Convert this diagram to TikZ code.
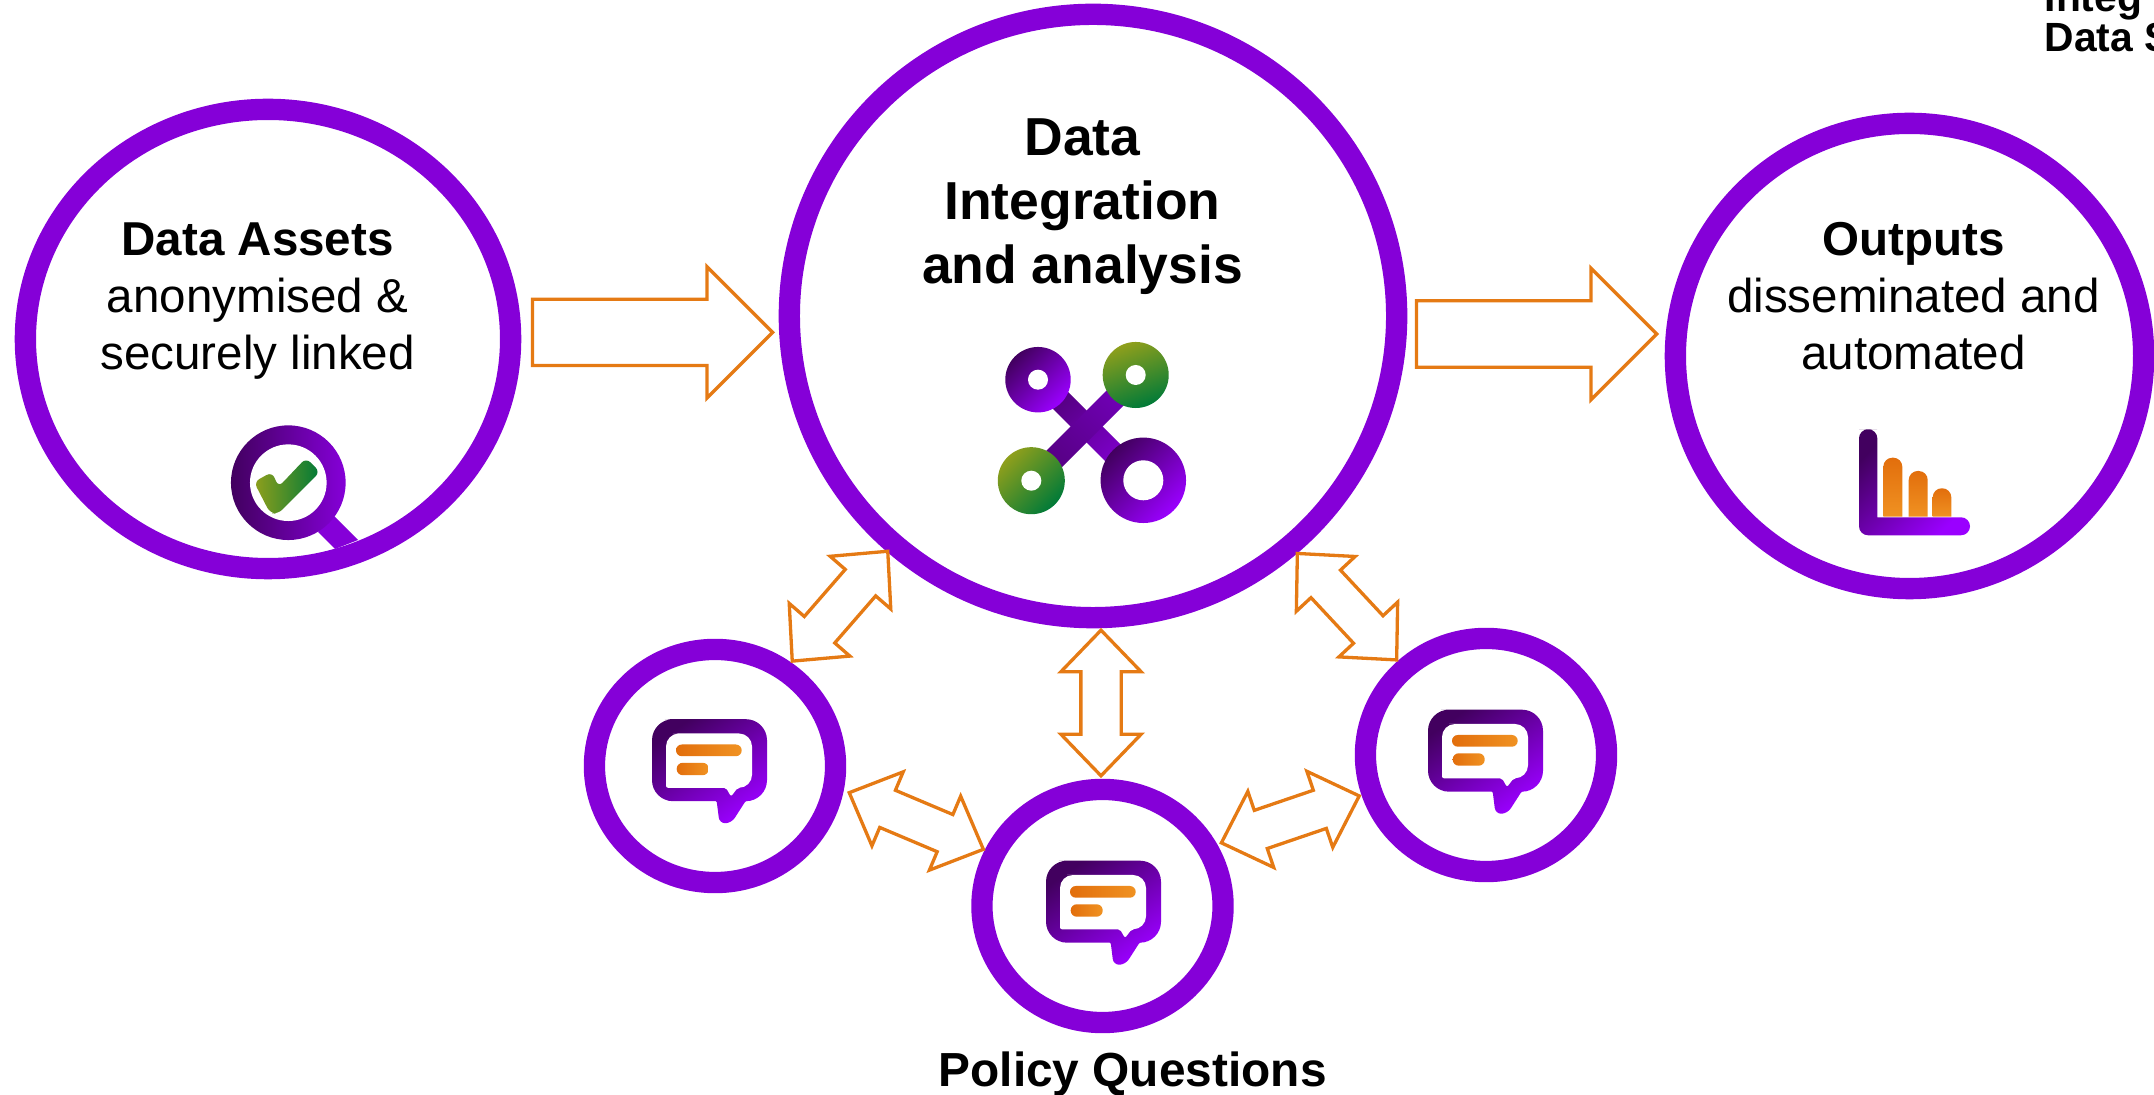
\documentclass[tikz,border=0pt]{standalone}
\usepackage{fontspec}
\setmainfont{Liberation Sans}
\usetikzlibrary{shapes.geometric,shapes.arrows}
\definecolor{ringpurple}{HTML}{8500D8}
\definecolor{darkpurple}{HTML}{42005F}
\definecolor{brightpurple}{HTML}{9A00FF}
\definecolor{arroworange}{HTML}{E57A14}
\definecolor{barorange}{HTML}{E26E0C}
\definecolor{lightorange}{HTML}{F09222}
\definecolor{olive}{HTML}{8F9F1C}
\definecolor{deepgreen}{HTML}{007A38}
\tikzset{
  x=0.01cm,y=-0.01cm,
  ringnode/.style={draw=ringpurple,line width=0.213cm,ellipse,inner sep=0pt,fill=white},
  labeltext/.style={align=center,inner sep=0pt,font=\fontsize{13.52}{16.2}\selectfont},
  bigtext/.style={align=center,inner sep=0pt,font=\fontsize{15.2}{18.2}\selectfont\bfseries},
  flowarrow/.style={single arrow,draw=arroworange,line width=0.033cm,inner xsep=0pt,inner ysep=0.315cm,anchor=tip,
    minimum height=2.40cm,minimum width=1.28cm,single arrow head extend=0.325cm,single arrow tip angle=90},
  linkarrow/.style={double arrow,draw=arroworange,line width=0.033cm,inner xsep=0pt,inner ysep=0.185cm,
    minimum height=1.455cm,minimum width=0.77cm,double arrow head extend=0.20cm,double arrow tip angle=88},
  purplegrad/.style={left color=darkpurple,right color=brightpurple,shading angle=45},
  greengrad/.style={left color=olive,right color=deepgreen,shading angle=45},
  bubble/.pic={
    \path[left color=darkpurple,right color=brightpurple,shading angle=35]
      (60,20.7) [rounded corners=0.21cm] -- (141,20.7) -- (141,102.7) [rounded corners=0.01cm] -- (119.5,102.7)
      [rounded corners=0.06cm] -- (105.5,124.5) -- (93.5,125) [rounded corners=0.01cm] -- (90.7,102.7)
      [rounded corners=0.21cm] -- (26,102.7) -- (26,20.7) -- cycle;
    \fill[white] (60,35) [rounded corners=0.13cm] -- (126,35) -- (126,89.3) [rounded corners=0.02cm] -- (111.7,89.3)
      -- (105,98) -- (100,89.3) -- (40,89.3) [rounded corners=0.13cm] -- (40,35) -- cycle;
    \path[left color=barorange,right color=lightorange,rounded corners=0.058cm] (50,46) rectangle (115.7,57.7);
    \path[left color=barorange,right color=lightorange,rounded corners=0.06cm] (50.7,64.3) rectangle (82.7,76.7);
  }
}
\begin{document}
\begin{tikzpicture}
\clip (0,0) rectangle (2154,1095);
% rings
\node[ringnode,minimum width=4.85cm,minimum height=4.59cm] (assets) at (268,339) {};
\node[ringnode,minimum width=6.07cm,minimum height=6.03cm] (integration) at (1093,316) {};
\node[ringnode,minimum width=4.68cm,minimum height=4.65cm] (outputs) at (1909.5,356) {};
\node[ringnode,minimum width=2.41cm,minimum height=2.33cm] (policyA) at (715,766) {};
\node[ringnode,minimum width=2.41cm,minimum height=2.33cm] (policyB) at (1102.5,906) {};
\node[ringnode,minimum width=2.41cm,minimum height=2.33cm] (policyC) at (1486,755) {};
% labels
\node[labeltext] (assetstext) at (257.6,301.2) {\textbf{Data Assets}\\anonymised \&\\securely linked};
\node[bigtext] (integrationtext) at (1082.5,206.3) {Data\\Integration\\and analysis};
\node[labeltext] (outputstext) at (1913.5,296) {\textbf{Outputs}\\disseminated and\\automated};
\node[anchor=base,inner sep=0pt,font=\fontsize{13.6}{16}\selectfont\bfseries] (policytext) at (1132.6,1086.5) {Policy Questions};
\node[anchor=south west,align=left,inner sep=0pt,font=\fontsize{11.6}{11.4}\selectfont\bfseries] (logotext) at (2044,52.5) {Integ\\Data S};
% block arrows
\node[flowarrow] (flowA) at (775,332.4) {};
\node[flowarrow] (flowB) at (1659,334) {};
\node[linkarrow,rotate=49] (linkA) at (840,606.2) {};
\node[linkarrow,rotate=90] (linkB) at (1101,703) {};
\node[linkarrow,rotate=-47] (linkC) at (1347,606.7) {};
\node[linkarrow,rotate=-22.9] (linkD) at (916.3,821) {};
\node[linkarrow,rotate=18.8] (linkE) at (1290.3,819.4) {};
% magnifier icon
\fill[ringpurple] (318,532) -- (334,516) -- (358,540) -- (335,549) -- cycle;
\path[left color=darkpurple,right color=ringpurple] (288.3,482.7) circle (0.573cm);
\fill[white] (288.3,482.7) circle (0.383cm);
\path[left color=olive,right color=deepgreen,rounded corners=0.06cm]
  (254,482) -- (272,472) -- (278.5,487) -- (306,458) -- (320,472) -- (278,514) -- (270,513) -- cycle;
% network icon
\path[left color=darkpurple!70!ringpurple,right color=ringpurple,shading angle=45]
  (1046,402) -- (1062,386) -- (1143,467) -- (1127,483) -- cycle;
\path[left color=ringpurple!85!black,right color=darkpurple!70!ringpurple,shading angle=-45]
  (1120,377) -- (1136,393) -- (1052,477) -- (1036,461) -- cycle;
\path[purplegrad] (1038,379.7) circle (0.327cm);
\fill[white] (1038,379.7) circle (0.10cm);
\path[greengrad,shading angle=20] (1135.7,375) circle (0.33cm);
\fill[white] (1135.7,375) circle (0.10cm);
\path[greengrad] (1031.3,480.7) circle (0.335cm);
\fill[white] (1031.3,480.7) circle (0.10cm);
\path[purplegrad] (1143.3,480.3) circle (0.427cm);
\fill[white] (1143.3,480.3) circle (0.20cm);
% chart icon
\path[purplegrad]
  (1868,429.3) [rounded corners=0.09cm] -- (1877.3,429.3) [sharp corners] -- (1877.3,517.3)
  [rounded corners=0.09cm] -- (1970,517.3) -- (1970,535.3) -- (1859,535.3) -- (1859,429.3) -- cycle;
\path[top color=barorange,bottom color=lightorange]
  (1883.3,516.7) [sharp corners] -- (1883.3,490) [rounded corners=0.09cm] -- (1883.3,457.7) -- (1902.3,457.7) [sharp corners] -- (1902.3,490) -- (1902.3,516.7) -- cycle;
\path[top color=barorange,bottom color=lightorange]
  (1908.7,516.7) [sharp corners] -- (1908.7,490) [rounded corners=0.09cm] -- (1908.7,471) -- (1927.7,471) [sharp corners] -- (1927.7,490) -- (1927.7,516.7) -- cycle;
\path[top color=barorange,bottom color=lightorange]
  (1932.7,516.7) [sharp corners] -- (1932.7,500) [rounded corners=0.09cm] -- (1932.7,488.3) -- (1951.3,488.3) [sharp corners] -- (1951.3,500) -- (1951.3,516.7) -- cycle;
% speech bubbles
\pic at (1020,840) {bubble};
\pic at (626,698.5) {bubble};
\pic at (1402,689) {bubble};
\end{tikzpicture}
\end{document}
